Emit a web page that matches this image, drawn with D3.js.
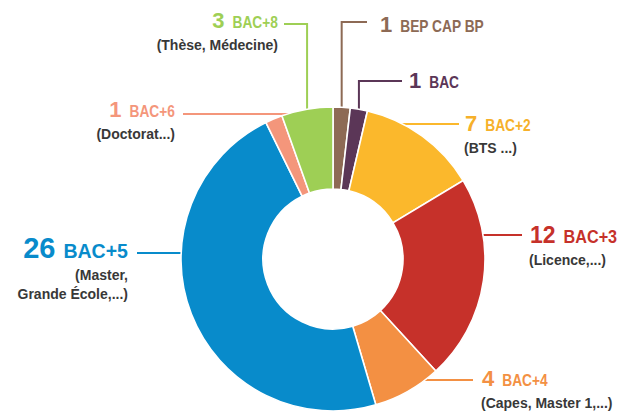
<!DOCTYPE html>
<html>
<head>
<meta charset="utf-8">
<script src="https://cdn.jsdelivr.net/npm/d3@7"></script>
<style>
  body { margin: 0; background: #fff; }
  svg { display: block; }
  text { font-family: "Liberation Sans", Arial, sans-serif; font-weight: bold; }
</style>
</head>
<body>
<div id="chart"></div>
<script>
// effectifs par niveau de diplôme (sens horaire depuis midi)
var categories = ["BEP CAP BP", "BAC", "BAC+2", "BAC+3", "BAC+4", "BAC+5", "BAC+6", "BAC+8"];
var counts = [1, 1, 7, 12, 4, 26, 1, 3];
var details = [
  [],
  [],
  ["(BTS ...)"],
  ["(Licence,...)"],
  ["(Capes, Master 1,...)"],
  ["(Master,", "Grande École,...)"],
  ["(Doctorat...)"],
  ["(Thèse, Médecine)"]
];
var palette = ["#8d6a55", "#5b3657", "#fbb82c", "#c6312a", "#f39043", "#088bcb", "#f4967b", "#9ecf55"];
var textColors = ["#8d6a55", "#5b3657", "#f6b02a", "#c6312a", "#f39043", "#088bcb", "#f4967b", "#9ecf55"];

var width = 620, height = 412,
    cx = 333, cy = 259,
    outerR = 152, innerR = 70;

// tailles de police selon l'importance
var sizes = {
  small: {num: 22, name: 16, squeeze: 0.86},
  mid:   {num: 23, name: 18, squeeze: 0.9},
  big:   {num: 29, name: 21, squeeze: 0.93}
};

// placement des étiquettes (ligne de rappel + texte)
var layout = [
  {type: "up",   lineY: 22,  lineEnd: 367, anchor: "start", tx: 380, ty: 32,  size: "small"},
  {type: "up",   lineY: 81,  lineEnd: 402, anchor: "start", tx: 409, ty: 88,  size: "small"},
  {type: "side", lineY: 124, lineEnd: 459, anchor: "start", tx: 465, ty: 131, size: "small"},
  {type: "side", lineY: 235, lineEnd: 522, anchor: "start", tx: 530, ty: 243, size: "mid"},
  {type: "side", lineY: 380, lineEnd: 473, anchor: "start", tx: 482, ty: 386, size: "small"},
  {type: "side", lineY: 253, lineEnd: 137, anchor: "end",   tx: 128, ty: 258, size: "big"},
  {type: "side", lineY: 114, lineEnd: 183, anchor: "end",   tx: 175, ty: 117, size: "small"},
  {type: "up",   lineY: 24,  lineEnd: 284, anchor: "end",   tx: 278, ty: 28,  size: "small"}
];

var data = categories.map(function(c, i) {
  return {name: c, value: counts[i], color: palette[i], textColor: textColors[i], sub: details[i], lay: layout[i]};
});

var svg = d3.select("#chart").append("svg")
    .attr("width", width)
    .attr("height", height);

var pie = d3.pie()
    .sort(null)
    .value(function(d) { return d.value; });

var arc = d3.arc()
    .innerRadius(innerR)
    .outerRadius(outerR);

var arcs = pie(data);

// lignes de rappel
var lines = svg.append("g").attr("class", "leaders");
arcs.forEach(function(a) {
  var L = a.data.lay;
  var pts;
  if (L.type === "up") {
    var mid = (a.startAngle + a.endAngle) / 2;
    var px = cx + outerR * Math.sin(mid),
        py = cy - outerR * Math.cos(mid);
    pts = [[px, py], [px, L.lineY], [L.lineEnd, L.lineY]];
  } else {
    var dy = L.lineY - cy;
    var dx = Math.sqrt(Math.max(0, outerR * outerR - dy * dy));
    var side = L.lineEnd > cx ? 1 : -1;
    pts = [[cx + side * (dx - 2), L.lineY], [L.lineEnd, L.lineY]];
  }
  lines.append("path")
      .attr("d", d3.line()(pts))
      .attr("fill", "none")
      .attr("stroke", a.data.color)
      .attr("stroke-width", 2);
});

// anneau
svg.append("g")
    .attr("transform", "translate(" + cx + "," + cy + ")")
  .selectAll("path")
    .data(arcs)
  .enter().append("path")
    .attr("d", arc)
    .attr("fill", function(d) { return d.data.color; })
    .attr("stroke", "#fff")
    .attr("stroke-width", 1.6);

// étiquettes : chiffre + libellé resserré (police condensée simulée)
var labels = svg.append("g").attr("class", "labels");
var gap = 8;
data.forEach(function(d) {
  var L = d.lay, S = sizes[L.size];
  var g = labels.append("g")
      .attr("transform", "translate(" + L.tx + "," + L.ty + ")")
      .attr("fill", d.textColor);

  var num = g.append("text")
      .attr("font-size", S.num)
      .text(d.value);
  var name = g.append("text")
      .attr("font-size", S.name)
      .text(d.name);

  var numW = num.node().getComputedTextLength();
  var nameW = name.node().getComputedTextLength() * S.squeeze;

  var startX = L.anchor === "end" ? -(numW + gap + nameW) : 0;
  num.attr("x", startX);
  name.attr("transform", "translate(" + (startX + numW + gap) + ",0) scale(" + S.squeeze + ",1)");

  d.sub.forEach(function(s, j) {
    labels.append("text")
        .attr("x", L.anchor === "end" ? L.tx : L.tx - 1)
        .attr("y", L.ty + 22 + j * 19)
        .attr("text-anchor", L.anchor)
        .attr("fill", "#383838")
        .attr("font-size", 14)
        .text(s);
  });
});
</script>
</body>
</html>
